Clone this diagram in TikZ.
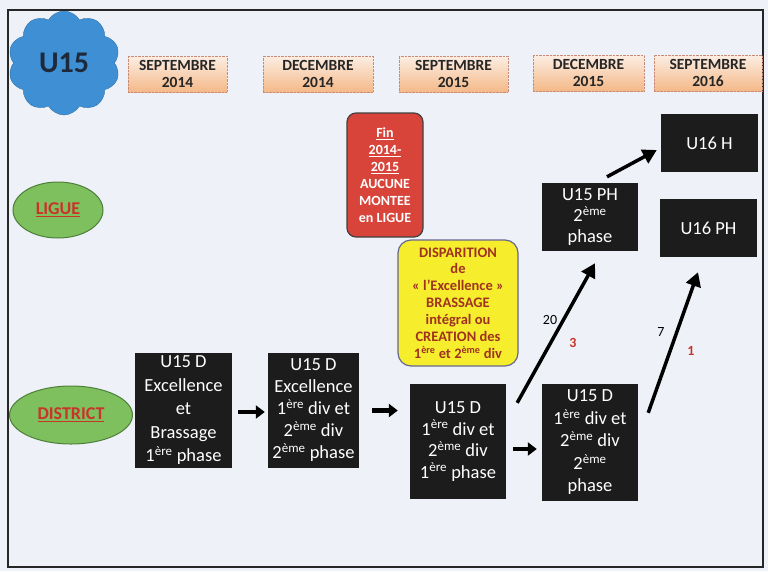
\documentclass[tikz,border=0pt]{standalone}
\usepackage{fontspec}
\setmainfont{Carlito}
\usetikzlibrary{shapes.symbols,shapes.geometric,arrows.meta,calc}
\definecolor{bgc}{HTML}{EEF2F8}
\definecolor{cloudc}{HTML}{3E8FD3}
\definecolor{cloudtext}{HTML}{1E2A3A}
\definecolor{greenc}{HTML}{7EBF5E}
\definecolor{greend}{HTML}{4E7F3A}
\definecolor{redc}{HTML}{D8443A}
\definecolor{yelc}{HTML}{F6EE2C}
\definecolor{yeltext}{HTML}{A03222}
\definecolor{redtext}{HTML}{C8342A}
\definecolor{blkc}{HTML}{1C1C1C}
\definecolor{datetop}{HTML}{FCEEE3}
\definecolor{datebot}{HTML}{F4B888}
\definecolor{dateborder}{HTML}{C88C78}
\tikzset{
  datebox/.style={draw=dateborder, densely dotted, top color=datetop, bottom color=datebot,
    inner sep=0pt, align=center, font=\fontsize{15.5}{17}\selectfont\bfseries, text=black!85},
  blackbox/.style={fill=blkc, text=white, inner sep=0pt, align=center,
    font=\fontsize{18.5}{22.5}\selectfont},
  levelell/.style={ellipse, fill=greenc, draw=greend, line width=1pt, inner sep=0pt,
    text=redtext, font=\fontsize{18}{20}\selectfont\bfseries},
  longarrow/.style={line width=3.5pt, -{Triangle[length=14pt,width=15pt]}},
  shortarrow/.style={line width=4.5pt, -{Triangle[length=9pt,width=13pt]}},
  numlabel/.style={font=\fontsize{14}{14}\selectfont, text=black},
  redlabel/.style={font=\fontsize{14}{14}\selectfont\bfseries, text=redtext},
}
\begin{document}
\begin{tikzpicture}[x=1pt,y=-1pt]
\useasboundingbox (0,0) rectangle (768,571);
\fill[bgc] (0,0) rectangle (768,571);
\draw[line width=1.5pt, black!85] (8,10) rectangle (763,567);

% cloud
\node[cloud, cloud puffs=10, cloud puff arc=120, fill=cloudc, draw=cloudc!80!black,
  minimum width=112pt, minimum height=104pt, inner sep=0pt,
  font=\fontsize{30}{30}\selectfont\bfseries, text=cloudtext] (cl) at (64,63) {U15};

% dates
\node[datebox, minimum width=99pt, minimum height=36pt] (d1) at (177.5,74) {SEPTEMBRE\\2014};
\node[datebox, minimum width=110pt, minimum height=36pt] (d2) at (318,74) {DECEMBRE\\2014};
\node[datebox, minimum width=109pt, minimum height=36pt] (d3) at (453.5,74) {SEPTEMBRE\\2015};
\node[datebox, minimum width=111pt, minimum height=36pt] (d4) at (588.5,73) {DECEMBRE\\2015};
\node[datebox, minimum width=108pt, minimum height=36pt] (d5) at (708,73) {SEPTEMBRE\\2016};

% levels
\node[levelell, minimum width=90pt, minimum height=56pt] (ligue) at (58,210) {\underline{LIGUE}};
\node[levelell, minimum width=123pt, minimum height=58pt] (district) at (71,415) {\underline{DISTRICT}};

% red note
\node[fill=redc, draw=black!75, line width=1.2pt, rounded corners=9pt,
  minimum width=76pt, minimum height=124pt, inner sep=0pt, align=center,
  text=white, font=\fontsize{14}{17}\selectfont\bfseries] (rednote) at (385,175)
  {\underline{Fin}\\\underline{2014-}\\\underline{2015}\\AUCUNE\\MONTEE\\en LIGUE};

% yellow note
\node[fill=yelc, draw=black!70!blue!60, line width=1.2pt, rounded corners=13pt,
  minimum width=120pt, minimum height=126pt, inner sep=0pt, align=center,
  text=yeltext, font=\fontsize{14.5}{16.9}\selectfont\bfseries] (yelnote) at (458,303)
  {DISPARITION\\de\\« l’Excellence »\\BRASSAGE\\intégral ou\\CREATION des\\1\textsuperscript{ère} et 2\textsuperscript{ème} div};

% black boxes
\node[blackbox, minimum width=97pt, minimum height=58pt] (u16h) at (709.5,143) {U16 H};
\node[blackbox, minimum width=97pt, minimum height=58pt] (u16ph) at (708.5,228) {U16 PH};
\node[blackbox, minimum width=96pt, minimum height=68pt,
  font=\fontsize{18.5}{21}\selectfont] (u15ph) at (590,217) {U15 PH\\2\textsuperscript{ème}\\phase};
\node[blackbox, minimum width=97pt, minimum height=115pt,
  font=\fontsize{18.5}{23.5}\selectfont] (b1) at (183.5,410.5)
  {U15 D\\Excellence\\et\\Brassage\\1\textsuperscript{ère} phase};
\node[blackbox, minimum width=91pt, minimum height=115pt,
  font=\fontsize{18.5}{22}\selectfont] (b2) at (313.5,410.5)
  {U15 D\\Excellence\\1\textsuperscript{ère} div et\\2\textsuperscript{ème} div\\2\textsuperscript{ème} phase};
\node[blackbox, minimum width=96pt, minimum height=115pt,
  font=\fontsize{18.5}{21.5}\selectfont] (b3) at (458,441.5)
  {U15 D\\1\textsuperscript{ère} div et\\2\textsuperscript{ème} div\\1\textsuperscript{ère} phase};
\node[blackbox, minimum width=96pt, minimum height=117pt,
  font=\fontsize{18.5}{22.5}\selectfont] (b4) at (590,442.5)
  {U15 D\\1\textsuperscript{ère} div et\\2\textsuperscript{ème} div\\2\textsuperscript{ème}\\phase};

% short arrows
\draw[shortarrow] ($(b1.east)+(6,1.5)$) -- ($(b2.west)+(-3,1.5)$);
\draw[shortarrow] ($(b2.east)+(13,0)$) -- ($(b2.east -| b3.west)+(-12,0)$);
\draw[shortarrow] ($(b3.east)+(7,7.5)$) -- ($(b4.west)+(-5,6.5)$);

% long arrows
\draw[longarrow] ($(b3.north east)+(11,19)$) -- ($(u15ph.south)+(5,12)$);
\draw[longarrow] ($(b4.north east)+(10,29)$) -- ($(u16ph.south)+(-10.5,15)$);
\draw[longarrow] ($(u15ph.north)+(17,-6)$) -- ($(u16h.west)+(-4,7)$);

% labels
\node[numlabel] (l20) at (550,320) {20};
\node[redlabel] (l3) at (573,343) {3};
\node[numlabel] (l7) at (661,332) {7};
\node[redlabel] (l1) at (691,351) {1};
\end{tikzpicture}
\end{document}
